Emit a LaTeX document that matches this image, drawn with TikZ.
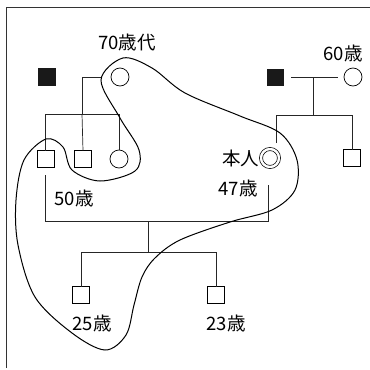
\documentclass[tikz,border=0pt]{standalone}
\usepackage{fontspec}
\setmainfont{Noto Sans CJK JP}
\begin{document}
\begin{tikzpicture}[x=1pt,y=-1pt,
  every node/.style={inner sep=0pt,outer sep=0pt},
  male/.style={draw,line width=0.7pt,minimum size=17pt,rectangle},
  dead/.style={fill=black!90,draw=black!90,minimum size=16.5pt,rectangle},
  female/.style={draw,line width=0.7pt,circle,minimum size=18pt},
  self/.style={draw,line width=0.7pt,circle,minimum size=18pt,double,double distance=2.4pt},
  lab/.style={font=\fontsize{18.5}{18.5}\selectfont},
  kin/.style={line width=0.7pt,black!85},
  loop/.style={line width=1pt,black}]
\useasboundingbox (0,0) rectangle (370,370);
\draw[line width=0.8pt,black!80] (6,368) -- (6,7) -- (370,7);
% left family
\node[dead] (dl) at (46.5,76.5) {};
\node[female] (c70) at (120,77) {};
\node[male] (s1) at (46,159) {};
\node[male] (s2) at (83,159) {};
\node[female] (d2) at (119,159) {};
% right family
\node[dead] (dr) at (275,77) {};
\node[female] (c60) at (353,77) {};
\node[self] (me) at (270,158) {};
\node[male] (s3) at (352,158) {};
% children
\node[male] (k25) at (81,295) {};
\node[male] (k23) at (216,295) {};
% labels
\node[lab] (t70) at (127,42) {70歳代};
\node[lab] (t60) at (343,53) {60歳};
\node[lab,anchor=east] (tme) at (259,158) {本人};
\node[lab] (t47) at (238,188) {47歳};
\node[lab] (t50) at (74,198) {50歳};
\node[lab] (t25) at (92,323) {25歳};
\node[lab] (t23) at (226,323) {23歳};
% coordinates
\coordinate (j1) at (82,114);
\coordinate (j2) at (313,115);
\coordinate (m1) at (45,221);
\coordinate (m2) at (148,221);
\coordinate (m3) at (148,252);
% left family lines
\draw[kin,shorten >=9pt] (j1) |- (c70.west);
\draw[kin] (45,150.5) -- (45,114) -- (119,114) -- (d2.north);
\draw[kin] (j1) -- (s2.north);
% right family lines
\draw[kin,shorten <=8pt,shorten >=6pt] (dr.east) -- (c60.west);
\draw[kin] (j2 |- c60) -- (j2);
\draw[kin] (276,143) -- (276,115) -- (352,115) -- (s3.north);
% marriage
\draw[kin] (45,175) -- (m1) -- (268,221) -- (268,185);
\draw[kin] (m2) -- (m3);
\draw[kin] (k25.north) -- (81,252) -- (216,252) -- (k23.north);
% loop
\draw[loop] plot[smooth cycle,tension=0.55] coordinates {
 (123,58) (152,68) (185,93) (240,116) (280,133) (297,160) (295,190)
 (272,210) (230,222) (180,240) (155,258) (142,277) (134,305) (126,335)
 (105,350) (72,333) (35,297) (18,245) (16,200) (24,160) (46,139)
 (63,147) (72,170) (100,181) (135,171) (139,150) (120,118) (101,80)};
\end{tikzpicture}
\end{document}
